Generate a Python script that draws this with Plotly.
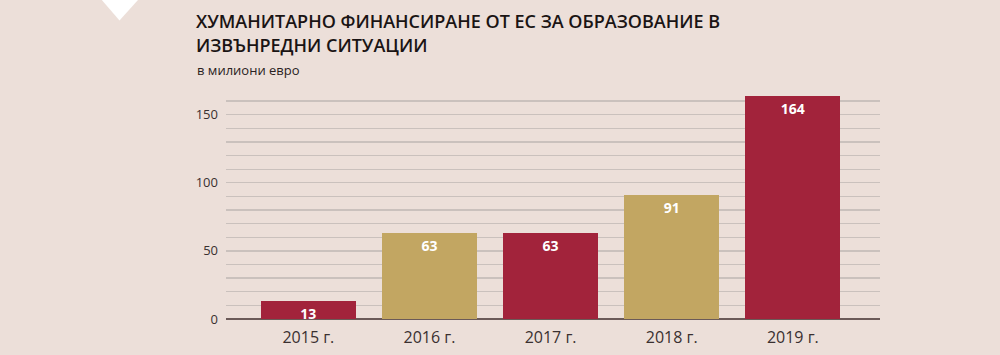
import plotly.graph_objects as go

years = ["2015 г.", "2016 г.", "2017 г.", "2018 г.", "2019 г."]
values = [13, 63, 63, 91, 164]
bar_colors = ["#a2233b", "#c2a662", "#a2233b", "#c2a662", "#a2233b"]
y_ticks = [0, 50, 100, 150]
title_lines = ["ХУМАНИТАРНО ФИНАНСИРАНЕ ОТ ЕС ЗА ОБРАЗОВАНИЕ В", "ИЗВЪНРЕДНИ СИТУАЦИИ"]
subtitle = "в милиони евро"

W, H = 1000, 355
L, R, T, B = 226, 120, 87.4, 36
pw, ph = W - L - R, H - T - B

def px(x):
    return (x - L) / pw

def py(y):
    return (H - B - y) / ph

BG = "#ecdfd9"

fig = go.Figure()
fig.add_trace(go.Bar(
    x=list(range(len(years))), y=values,
    marker=dict(color=bar_colors, line=dict(width=0)),
    width=0.785,
    text=[str(v) for v in values],
    textposition="inside", insidetextanchor="end",
    textangle=0, constraintext="none",
    textfont=dict(color="white", size=14, family="Open Sans", weight=700),
    cliponaxis=False,
    hoverinfo="skip",
))

fig.update_layout(
    width=W, height=H,
    margin=dict(l=L, r=R, t=T, b=B, pad=0, autoexpand=False),
    paper_bgcolor=BG, plot_bgcolor=BG,
    showlegend=False,
    bargap=0,
    xaxis=dict(
        range=[-0.68, 4.72],
        tickmode="array", tickvals=list(range(len(years))), ticktext=years,
        showgrid=False, zeroline=False, showline=False, ticks="",
        ticklabelstandoff=7, automargin=False,
        tickfont=dict(family="Open Sans", size=16, color="#3a3030"),
        fixedrange=True,
    ),
    yaxis=dict(
        range=[0, 170.3],
        tickmode="array", tickvals=y_ticks,
        showgrid=True, gridcolor="#cac1bd", gridwidth=1.3,
        minor=dict(dtick=10, showgrid=True, gridcolor="#cac1bd", gridwidth=1.3),
        zeroline=True, zerolinecolor="#6b5a58", zerolinewidth=1.5,
        showline=False, ticks="",
        ticklabelstandoff=7, automargin=False,
        tickfont=dict(family="Open Sans", size=13, color="#3a3030"),
        fixedrange=True,
    ),
)

for line, yc in zip(title_lines, [22, 45]):
    fig.add_annotation(
        text=line, xref="paper", yref="paper",
        x=px(194), y=py(yc), xanchor="left", yanchor="middle",
        showarrow=False,
        font=dict(family="Open Sans", size=18, color="#1a1414", weight=600),
    )

fig.add_annotation(
    text=subtitle, xref="paper", yref="paper",
    x=px(195), y=py(70), xanchor="left", yanchor="middle",
    showarrow=False, font=dict(family="Open Sans", size=13, color="#2a2222"),
)

fig.add_shape(
    type="path", xref="paper", yref="paper",
    path=f"M {px(97)} {py(-5)} L {px(143)} {py(-5)} L {px(119.5)} {py(21)} Z",
    fillcolor="white", line=dict(width=0), layer="above",
)

fig.write_html(
    "out.html",
    config={"displayModeBar": False, "staticPlot": True},
    post_script="document.body.style.margin='0';document.body.style.padding='0';",
)
